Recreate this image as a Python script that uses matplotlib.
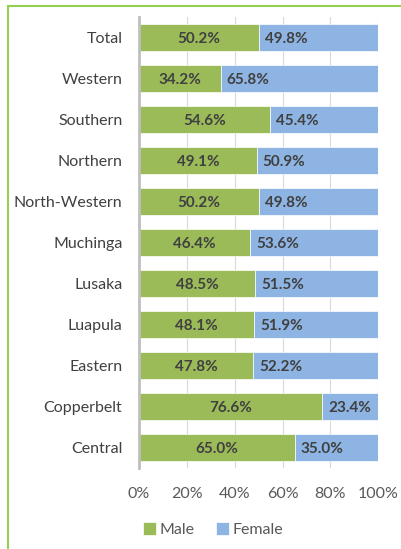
import matplotlib.pyplot as plt
from matplotlib.patches import Rectangle

# data, top to bottom as shown
provinces = ['Total', 'Western', 'Southern', 'Northern', 'North-Western', 'Muchinga',
             'Lusaka', 'Luapula', 'Eastern', 'Copperbelt', 'Central']
male = [50.2, 34.2, 54.6, 49.1, 50.2, 46.4, 48.5, 48.1, 47.8, 76.6, 65.0]
female = [49.8, 65.8, 45.4, 50.9, 49.8, 53.6, 51.5, 51.9, 52.2, 23.4, 35.0]
ticks = [0, 20, 40, 60, 80, 100]

plt.rcParams['font.family'] = ['Lato', 'DejaVu Sans']

fig = plt.figure(figsize=(4.02, 5.49), dpi=100)
ax = fig.add_axes([0.346, 0.1475, 0.595, 0.8215])

y = list(range(len(provinces)))
green = '#9BBB59'
blue = '#8DB4E2'
ax.barh(y, male, height=0.66, color=green, edgecolor='white', linewidth=0.5, label='Male', zorder=2)
ax.barh(y, female, left=male, height=0.66, color=blue, edgecolor='white', linewidth=0.5, label='Female', zorder=2)

for i in y:
    ax.text(male[i] / 2, i + 0.03, f'{male[i]:.1f}%', ha='center', va='center',
            fontsize=11, fontweight='bold', color='#404040', zorder=3)
    ax.text(male[i] + 2.5, i + 0.03, f'{female[i]:.1f}%', ha='left', va='center',
            fontsize=11, fontweight='bold', color='#404040', zorder=3)

ax.set_ylim(len(provinces) - 0.5, -0.5)
ax.set_xlim(0, 100)
ax.set_yticks(y)
ax.set_yticklabels(provinces, fontsize=11.5, color='#404040')
ax.set_xticks(ticks)
ax.set_xticklabels([f'{t}%' for t in ticks], fontsize=11.5, color='#595959')
ax.tick_params(length=0)
ax.tick_params(axis='y', pad=12)
ax.tick_params(axis='x', pad=14)
ax.xaxis.grid(True, color='#D9D9D9', linewidth=0.8, zorder=0)
for s in ['top', 'right', 'bottom']:
    ax.spines[s].set_visible(False)
ax.spines['left'].set_color('#BFBFBF')
ax.spines['left'].set_linewidth(2)

fig.legend(loc='center', bbox_to_anchor=(0.53, 0.035), ncol=2, frameon=False,
           fontsize=11.5, handlelength=0.8, handleheight=0.8, handletextpad=0.2,
           columnspacing=1.4, labelcolor='#595959')

# green frame around the chart (runs off the right and bottom edges)
fig.patches.append(Rectangle((8 / 402, -0.05), 1.0, 0.05 + 1 - 6 / 549,
                             transform=fig.transFigure, fill=False,
                             edgecolor='#92D050', linewidth=1.5))

fig.savefig('out.png', dpi=100)
